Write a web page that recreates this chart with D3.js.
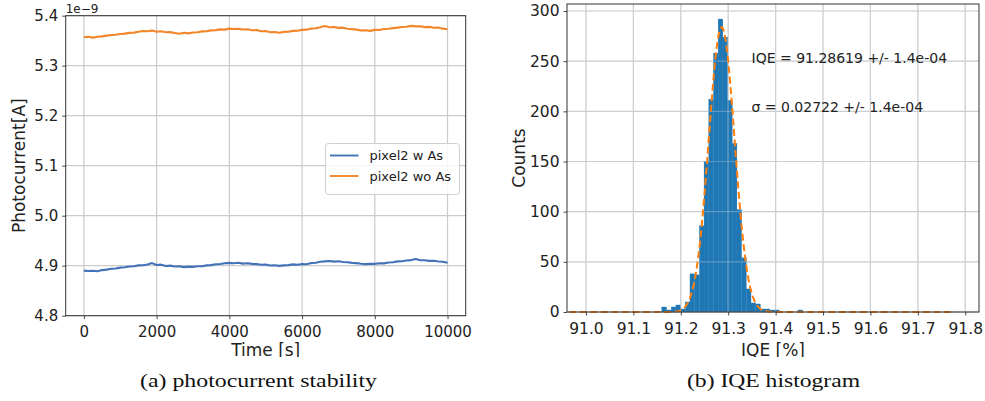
<!DOCTYPE html>
<html>
<head>
<meta charset="utf-8">
<script src="https://cdn.jsdelivr.net/npm/d3@7"></script>
<style>
  html, body { margin: 0; padding: 0; background: #fff; }
  svg { display: block; }
  text { font-family: "DejaVu Sans", sans-serif; fill: #222; }
  .caption { font-family: "Liberation Serif", "Times New Roman", serif; fill: #111; }
</style>
</head>
<body>
<svg id="fig" width="985" height="401"></svg>
<script>
// ---------- (a) photocurrent stability ----------
const timeTicks = [0, 2000, 4000, 6000, 8000, 10000];
const currentTicks = [4.8, 4.9, 5.0, 5.1, 5.2, 5.3, 5.4];

const times = [
  0, 125, 250, 375, 500, 625, 750, 875, 1000, 1125,
  1250, 1375, 1500, 1625, 1750, 1875, 2000, 2125, 2250, 2375,
  2500, 2625, 2750, 2875, 3000, 3125, 3250, 3375, 3500, 3625,
  3750, 3875, 4000, 4125, 4250, 4375, 4500, 4625, 4750, 4875,
  5000, 5125, 5250, 5375, 5500, 5625, 5750, 5875, 6000, 6125,
  6250, 6375, 6500, 6625, 6750, 6875, 7000, 7125, 7250, 7375,
  7500, 7625, 7750, 7875, 8000, 8125, 8250, 8375, 8500, 8625,
  8750, 8875, 9000, 9125, 9250, 9375, 9500, 9625, 9750, 9875,
  10000
];

// photocurrent in units of 1e-9 A
const pixel2WithAs = [
  4.8902, 4.8893, 4.8898, 4.8890, 4.8912, 4.8921, 4.8938, 4.8944, 4.8962, 4.8968,
  4.8984, 4.8990, 4.9006, 4.9010, 4.9024, 4.9052, 4.9015, 4.9021, 4.8994, 4.9002,
  4.8983, 4.8990, 4.8971, 4.8982, 4.8976, 4.8990, 4.8988, 4.9006, 4.9012, 4.9028,
  4.9034, 4.9050, 4.9056, 4.9049, 4.9058, 4.9041, 4.9050, 4.9036, 4.9031, 4.9018,
  4.9022, 4.9004, 4.9008, 4.8996, 4.9006, 4.9012, 4.9026, 4.9020, 4.9035, 4.9029,
  4.9052, 4.9060, 4.9078, 4.9086, 4.9094, 4.9082, 4.9089, 4.9074, 4.9070, 4.9056,
  4.9052, 4.9038, 4.9032, 4.9040, 4.9036, 4.9050, 4.9046, 4.9064, 4.9070, 4.9086,
  4.9090, 4.9104, 4.9112, 4.9134, 4.9108, 4.9110, 4.9096, 4.9098, 4.9084, 4.9079,
  4.9060
];

const pixel2WithoutAs = [
  5.3570, 5.3580, 5.3562, 5.3578, 5.3586, 5.3601, 5.3614, 5.3619, 5.3635, 5.3641,
  5.3656, 5.3662, 5.3679, 5.3693, 5.3688, 5.3702, 5.3679, 5.3688, 5.3668, 5.3672,
  5.3655, 5.3638, 5.3660, 5.3646, 5.3665, 5.3668, 5.3686, 5.3690, 5.3706, 5.3711,
  5.3727, 5.3722, 5.3741, 5.3733, 5.3736, 5.3724, 5.3729, 5.3708, 5.3712, 5.3690,
  5.3692, 5.3668, 5.3673, 5.3659, 5.3676, 5.3679, 5.3697, 5.3700, 5.3716, 5.3721,
  5.3742, 5.3748, 5.3768, 5.3792, 5.3770, 5.3774, 5.3756, 5.3761, 5.3738, 5.3731,
  5.3722, 5.3703, 5.3709, 5.3696, 5.3716, 5.3713, 5.3735, 5.3738, 5.3752, 5.3761,
  5.3774, 5.3778, 5.3796, 5.3786, 5.3790, 5.3771, 5.3776, 5.3759, 5.3765, 5.3741,
  5.3728
];

const seriesNames = ["pixel2 w As", "pixel2 wo As"];
const seriesColors = ["#4272b8", "#f2862a"];

// ---------- (b) IQE histogram ----------
const iqeTicks = [91.0, 91.1, 91.2, 91.3, 91.4, 91.5, 91.6, 91.7, 91.8];
const countTicks = [0, 50, 100, 150, 200, 250, 300];
const binStart = 91.160;
const binWidth = 0.0099;
const binCounts = [
  5, 2, 5, 7, 3, 10, 38, 37, 86, 150,
  212, 258, 292, 274, 211, 168, 102, 54, 23, 9,
  8, 3, 3, 2, 2, 0, 0, 0, 0, 2
];
// Gaussian fit parameters
const fitMean = 91.28619;
const fitSigma = 0.02722;
const fitAmplitude = 284;
const fitRange = [90.965, 91.78];
const fitLabels = ["IQE = 91.28619 +/- 1.4e-04", "\u03c3 = 0.02722 +/- 1.4e-04"];

const svg = d3.select("#fig");
svg.append("rect").attr("width", 985).attr("height", 401).attr("fill", "#fff");

const gridColor = "#cbcbcb";
const spineColor = "#333";

// clip for the axis titles that are cut at the bottom of the plot image
svg.append("defs").append("clipPath").attr("id", "plotcut")
  .append("rect").attr("x", 0).attr("y", 0).attr("width", 985).attr("height", 357);

// ======== panel (a) ========
{
  const L = 65.7, R = 465.7, T = 15.7, B = 315.7;
  const x = d3.scaleLinear().domain([-500, 10500]).range([L, R]);
  const y = d3.scaleLinear().domain([4.8, 5.4]).range([B, T]);
  const g = svg.append("g");

  // grid
  g.selectAll(".gx").data(timeTicks).join("line")
    .attr("x1", d => x(d)).attr("x2", d => x(d)).attr("y1", T).attr("y2", B)
    .attr("stroke", gridColor).attr("stroke-width", 1.2);
  g.selectAll(".gy").data(currentTicks).join("line")
    .attr("y1", d => y(d)).attr("y2", d => y(d)).attr("x1", L).attr("x2", R)
    .attr("stroke", gridColor).attr("stroke-width", 1.2);

  // lines
  const line = d3.line().x((d, i) => x(times[i])).y(d => y(d));
  [pixel2WithAs, pixel2WithoutAs].forEach((s, k) => {
    g.append("path").datum(s).attr("d", line)
      .attr("fill", "none").attr("stroke", seriesColors[k])
      .attr("stroke-width", 2.1).attr("stroke-linejoin", "round");
  });

  // axes
  const xa = d3.axisBottom(x).tickValues(timeTicks).tickFormat(d3.format("d")).tickSize(3.5).tickPadding(4);
  const ya = d3.axisLeft(y).tickValues(currentTicks).tickFormat(d3.format(".1f")).tickSize(3.5).tickPadding(4);
  const gx = g.append("g").attr("transform", `translate(0,${B})`).call(xa);
  const gy = g.append("g").attr("transform", `translate(${L},0)`).call(ya);
  [gx, gy].forEach(a => {
    a.select(".domain").remove();
    a.selectAll(".tick line").attr("stroke", spineColor).attr("stroke-width", 0.9);
    a.selectAll(".tick text").attr("font-size", 15).attr("fill", "#222")
      .attr("font-family", "DejaVu Sans");
  });
  gx.selectAll(".tick text").attr("dy", "0.93em");

  g.append("rect").attr("x", L).attr("y", T).attr("width", R - L).attr("height", B - T)
    .attr("fill", "none").attr("stroke", spineColor).attr("stroke-width", 1);

  // offset text
  g.append("text").attr("x", L).attr("y", 12.5).attr("font-size", 12).text("1e\u22129");

  // axis titles
  g.append("text").attr("x", (L + R) / 2).attr("y", 355.5).attr("text-anchor", "middle")
    .attr("font-size", 17).attr("clip-path", "url(#plotcut)").text("Time [s]");
  g.append("text").attr("transform", `translate(25,${(T + B) / 2}) rotate(-90)`)
    .attr("text-anchor", "middle").attr("font-size", 17).text("Photocurrent[A]");

  // legend
  const lg = g.append("g");
  lg.append("rect").attr("x", 325.5).attr("y", 143.5).attr("width", 134).attr("height", 51)
    .attr("rx", 3).attr("fill", "#fff").attr("fill-opacity", 0.85)
    .attr("stroke", "#d0d0d0").attr("stroke-width", 1);
  seriesNames.forEach((n, k) => {
    const cy = 155.5 + k * 20.5;
    lg.append("line").attr("x1", 330).attr("x2", 358.5).attr("y1", cy).attr("y2", cy)
      .attr("stroke", seriesColors[k]).attr("stroke-width", 1.9);
    lg.append("text").attr("x", 369.5).attr("y", cy + 4.7).attr("font-size", 13).text(n);
  });

  svg.append("text").attr("class", "caption").attr("x", 140).attr("y", 386.5)
    .attr("font-size", 19).attr("textLength", 237).attr("lengthAdjust", "spacingAndGlyphs")
    .text("(a) photocurrent stability");
}

// ======== panel (b) ========
{
  const L = 567, R = 979, T = 4, B = 312;
  const x = d3.scaleLinear().domain([90.96, 91.829]).range([L, R]);
  const y = d3.scaleLinear().domain([0, 307]).range([B, T]);
  const g = svg.append("g");

  g.selectAll(".gx").data(iqeTicks).join("line")
    .attr("x1", d => x(d)).attr("x2", d => x(d)).attr("y1", T).attr("y2", B)
    .attr("stroke", gridColor).attr("stroke-width", 1.2);
  g.selectAll(".gy").data(countTicks).join("line")
    .attr("y1", d => y(d)).attr("y2", d => y(d)).attr("x1", L).attr("x2", R)
    .attr("stroke", gridColor).attr("stroke-width", 1.2);

  // histogram bars
  const bins = binCounts.map((c, i) => ({ x0: binStart + i * binWidth, x1: binStart + (i + 1) * binWidth, c }));
  g.selectAll(".bar").data(bins.filter(b => b.c > 0)).join("rect")
    .attr("x", d => x(d.x0)).attr("width", d => x(d.x1) - x(d.x0))
    .attr("y", d => y(d.c)).attr("height", d => y(0) - y(d.c))
    .attr("fill", "#1f77b4").attr("stroke", "#1f77b4").attr("stroke-width", 0.3);

  // grid shows faintly through the bars
  g.selectAll(".gx2").data(iqeTicks).join("line")
    .attr("x1", d => x(d)).attr("x2", d => x(d)).attr("y1", T).attr("y2", B)
    .attr("stroke", "#cfd8e2").attr("stroke-opacity", 0.35).attr("stroke-width", 1.2);
  g.selectAll(".gy2").data(countTicks).join("line")
    .attr("y1", d => y(d)).attr("y2", d => y(d)).attr("x1", L).attr("x2", R)
    .attr("stroke", "#cfd8e2").attr("stroke-opacity", 0.35).attr("stroke-width", 1.2);

  // Gaussian fit
  const fitX = d3.range(fitRange[0], fitRange[1], 0.002);
  const gauss = v => fitAmplitude * Math.exp(-((v - fitMean) ** 2) / (2 * fitSigma * fitSigma));
  g.append("path").datum(fitX)
    .attr("d", d3.line().x(v => x(v)).y(v => y(gauss(v))))
    .attr("fill", "none").attr("stroke", "#ff7f0e").attr("stroke-width", 2)
    .attr("stroke-dasharray", "7,3.5");

  const xa = d3.axisBottom(x).tickValues(iqeTicks).tickFormat(d3.format(".1f")).tickSize(3.5).tickPadding(4);
  const ya = d3.axisLeft(y).tickValues(countTicks).tickFormat(d3.format("d")).tickSize(3.5).tickPadding(4);
  const gx = g.append("g").attr("transform", `translate(0,${B})`).call(xa);
  const gy = g.append("g").attr("transform", `translate(${L},0)`).call(ya);
  [gx, gy].forEach(a => {
    a.select(".domain").remove();
    a.selectAll(".tick line").attr("stroke", spineColor).attr("stroke-width", 0.9);
    a.selectAll(".tick text").attr("font-size", 15.5).attr("fill", "#222")
      .attr("font-family", "DejaVu Sans");
  });
  gx.selectAll(".tick text").attr("dy", "0.93em");

  g.append("rect").attr("x", L).attr("y", T).attr("width", R - L).attr("height", B - T)
    .attr("fill", "none").attr("stroke", spineColor).attr("stroke-width", 1);

  fitLabels.forEach((t, k) => {
    g.append("text").attr("x", 751.5).attr("y", 62.5 + k * 49.5).attr("font-size", 14).text(t);
  });

  g.append("text").attr("x", (L + R) / 2).attr("y", 355.5).attr("text-anchor", "middle")
    .attr("font-size", 17).attr("clip-path", "url(#plotcut)").text("IQE [%]");
  g.append("text").attr("transform", `translate(525,${(T + B) / 2}) rotate(-90)`)
    .attr("text-anchor", "middle").attr("font-size", 17).text("Counts");

  svg.append("text").attr("class", "caption").attr("x", 687).attr("y", 387)
    .attr("font-size", 19).attr("textLength", 173).attr("lengthAdjust", "spacingAndGlyphs")
    .text("(b) IQE histogram");
}
</script>
</body>
</html>
